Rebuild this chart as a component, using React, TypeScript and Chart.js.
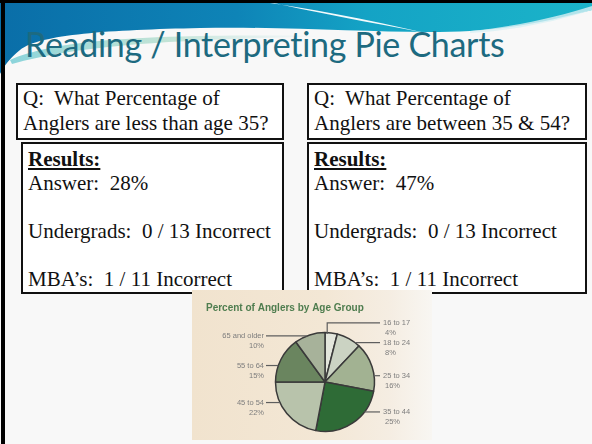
import React, { useEffect, useRef } from "react";
import { Chart, registerables } from "chart.js";

Chart.register(...registerables);

// ---- data ----
const ageGroups = ["16 to 17", "18 to 24", "25 to 34", "35 to 44", "45 to 54", "55 to 64", "65 and older"];
const percents = [4, 8, 16, 25, 22, 15, 10];
const sliceColors = ["#e3e6dc", "#cbd3c3", "#a2b292", "#2e6b36", "#b8c3ab", "#6a855f", "#a7b29a"];
const chartTitle = "Percent of Anglers by Age Group";

const slideTitle = "Reading / Interpreting Pie Charts";
const questionLines = [
  ["Q:\u00a0 What Percentage of", "Anglers are less than age 35?"],
  ["Q:\u00a0 What Percentage of", "Anglers are between 35 & 54?"],
];
const answers = ["28%", "47%"];
const undergradWrong = [0, 0];
const undergradTotal = [13, 13];
const mbaWrong = [1, 1];
const mbaTotal = [11, 11];

// label vertical nudges relative to slice mid-point (layout only)
const labelNudges = [-10, 4, 9, -11, -11, 6, 1];

const anglerPlugin = {
  id: "anglerLabels",
  beforeDraw(chart: any) {
    const { ctx, width, height } = chart;
    ctx.save();
    const g = ctx.createLinearGradient(0, 0, width, 0);
    g.addColorStop(0, "#f1e3ce");
    g.addColorStop(0.55, "#f3e7d5");
    g.addColorStop(0.82, "#f5ede2");
    g.addColorStop(1, "#f8f6f2");
    ctx.fillStyle = g;
    ctx.fillRect(0, 0, width, height);
    ctx.font = "bold 10px 'Liberation Sans', Arial, sans-serif";
    ctx.fillStyle = "#4f7d4f";
    ctx.textBaseline = "middle";
    ctx.textAlign = "left";
    ctx.fillText(chartTitle, 14, 18);
    ctx.restore();
  },
  afterDatasetsDraw(chart: any, _args: any, opts: any) {
    const meta = chart.getDatasetMeta(0);
    const ctx = chart.ctx;
    const nudges: number[] = opts.nudges || [];
    ctx.save();
    ctx.font = "7.5px 'Liberation Sans', Arial, sans-serif";
    ctx.textBaseline = "middle";
    meta.data.forEach((arc: any, i: number) => {
      const { x, y, startAngle, endAngle, outerRadius } = arc.getProps(
        ["x", "y", "startAngle", "endAngle", "outerRadius"],
        true
      );
      const R = outerRadius;
      const mid = (startAngle + endAngle) / 2;
      const px = x + R * Math.cos(mid);
      const py = y + R * Math.sin(mid);
      const right = Math.cos(mid) >= 0;
      const ly = py + (nudges[i] || 0);
      const colX = right ? x + R + 5.5 : x - R - 9.5;
      const dy = ly - y;
      ctx.beginPath();
      ctx.strokeStyle = "#5e5e5e";
      ctx.lineWidth = 1.2;
      if (Math.abs(dy) >= R - 1) {
        ctx.moveTo(px - 4, py + 1);
        ctx.lineTo(px - 4, ly);
        ctx.lineTo(colX, ly);
      } else {
        const ex = x + (right ? 1 : -1) * Math.sqrt(R * R - dy * dy);
        ctx.moveTo(ex, ly);
        ctx.lineTo(colX, ly);
      }
      ctx.stroke();
      ctx.fillStyle = "#7d7d7d";
      const name = chart.data.labels[i];
      const pct = chart.data.datasets[0].data[i] + "%";
      if (right) {
        ctx.textAlign = "left";
        ctx.fillText(name, colX + 3, ly);
        ctx.fillText(pct, colX + 5, ly + 10);
      } else {
        ctx.textAlign = "right";
        ctx.fillText(name, colX - 2, ly);
        ctx.fillText(pct, colX - 2, ly + 10);
      }
    });
    ctx.restore();
  },
};

function PieImage() {
  const ref = useRef<HTMLCanvasElement>(null);
  useEffect(() => {
    if (!ref.current) return;
    const chart = new Chart(ref.current, {
      type: "pie",
      data: {
        labels: ageGroups,
        datasets: [
          {
            data: percents,
            backgroundColor: sliceColors,
            borderColor: "#3a3a3a",
            borderWidth: 1.5,
          },
        ],
      },
      options: {
        animation: false,
        responsive: false,
        devicePixelRatio: 1,
        layout: { padding: { left: 82.75, right: 56.75, top: 41.75, bottom: 7.75 } },
        plugins: {
          legend: { display: false },
          tooltip: { enabled: false },
          title: { display: false },
          anglerLabels: { nudges: labelNudges },
        } as any,
      },
      plugins: [anglerPlugin],
    });
    return () => chart.destroy();
  }, []);
  return <canvas ref={ref} width={240} height={150} style={{ width: 240, height: 150, display: "block" }} />;
}

const serif = "'Liberation Serif', 'Times New Roman', serif";

function Box(props: { left: number; top: number; width: number; height: number; children: any; padTop: number; lh: number }) {
  return (
    <div
      style={{
        position: "absolute",
        left: props.left,
        top: props.top,
        width: props.width,
        height: props.height,
        boxSizing: "border-box",
        border: "2px solid #111",
        background: "#ffffff",
        paddingLeft: 5,
        paddingTop: props.padTop,
        fontFamily: serif,
        fontSize: 21,
        lineHeight: props.lh + "px",
        color: "#111",
        whiteSpace: "nowrap",
        overflow: "hidden",
      }}
    >
      {props.children}
    </div>
  );
}

export default function App() {
  const cols = [
    { q: 16, r: 21, right: 284 },
    { q: 307, r: 307, right: 587 },
  ];
  return (
    <div
      style={{
        position: "fixed",
        left: 0,
        top: 0,
        width: 592,
        height: 444,
        background: "#f8f8f8",
        overflow: "hidden",
      }}
    >
      <svg width={592} height={80} style={{ position: "absolute", left: 0, top: 0 }}>
        <defs>
          <linearGradient id="band" x1="0" y1="0" x2="1" y2="0">
            <stop offset="0" stopColor="#0a6ea8" />
            <stop offset="0.4" stopColor="#0e84b7" />
            <stop offset="0.62" stopColor="#14a3c5" />
            <stop offset="1" stopColor="#1bb4c9" />
          </linearGradient>
          <linearGradient id="streak" x1="0" y1="0" x2="1" y2="0">
            <stop offset="0" stopColor="#7fd0d8" stopOpacity="0.9" />
            <stop offset="0.5" stopColor="#9fd6c0" stopOpacity="0.6" />
            <stop offset="1" stopColor="#b9e3ea" stopOpacity="0" />
          </linearGradient>
        </defs>
        <path
          d="M0,0 H592 V10 C560,18 520,28 470,31 C400,35 300,26 200,28 C110,30 40,34 20,50 C10,58 4,66 0,74 Z"
          fill="url(#band)"
        />
        <path d="M245,0 C300,6 360,18 430,34 C370,22 310,12 262,0 Z" fill="#ffffff" opacity="0.95" />
        <path d="M470,31 C520,26 560,16 592,6 L592,10 C560,20 520,30 470,33 Z" fill="#d8f0f4" opacity="0.8" />
        <path d="M10,60 C60,38 160,34 330,36 C200,40 90,42 12,64 Z" fill="url(#streak)" />
      </svg>
      <div style={{ position: "absolute", left: 0, top: 0, width: 592, height: 3, background: "#000" }} />
      <div style={{ position: "absolute", left: 1, top: 0, width: 4, height: 444, background: "#000" }} />
      <div
        style={{
          position: "absolute",
          left: 25,
          top: 23,
          fontFamily: "Lato, 'Open Sans', sans-serif",
          fontSize: 34,
          lineHeight: "42px",
          color: "#1d6a80",
          whiteSpace: "nowrap",
          letterSpacing: -0.3,
        }}
      >
        {slideTitle}
      </div>
      {cols.map((c, i) => (
        <React.Fragment key={i}>
          <Box left={c.q} top={83} width={c.right - c.q} height={57} padTop={1} lh={25}>
            <div>{questionLines[i][0]}</div>
            <div>{questionLines[i][1]}</div>
          </Box>
          <Box left={c.r} top={142} width={c.right - c.r} height={152} padTop={3} lh={24}>
            <div style={{ fontWeight: "bold", textDecoration: "underline" }}>Results:</div>
            <div>
              Answer:&nbsp; {answers[i]}
            </div>
            <div>&nbsp;</div>
            <div>
              Undergrads:&nbsp; {undergradWrong[i]} / {undergradTotal[i]} Incorrect
            </div>
            <div>&nbsp;</div>
            <div>
              MBA’s:&nbsp; {mbaWrong[i]} / {mbaTotal[i]} Incorrect
            </div>
          </Box>
        </React.Fragment>
      ))}
      <div style={{ position: "absolute", left: 192, top: 290 }}>
        <PieImage />
      </div>
    </div>
  );
}
